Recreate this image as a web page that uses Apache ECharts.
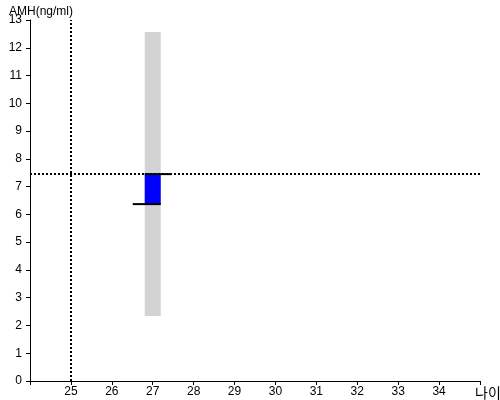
<!DOCTYPE html>
<html><head><meta charset="utf-8">
<script src="https://cdn.jsdelivr.net/npm/echarts@6/dist/echarts.min.js"></script>
<style>html,body{margin:0;padding:0;background:#fff}#c{width:500px;height:400px}</style>
</head><body><div id="c"></div>
<script>
// Data
const ages = [27];
const rangeLow = [2.34];
const rangeHigh = [12.57];
const valueLow = [6.37];
const valueHigh = [7.45];
const refAge = 25;
const refAmh = 7.45;
const xTicks = [25, 26, 27, 28, 29, 30, 31, 32, 33, 34];

const chart = echarts.init(document.getElementById('c'));
const rangeData = ages.map((a, i) => [a, rangeLow[i], rangeHigh[i]]);
const valueData = ages.map((a, i) => [a, valueLow[i], valueHigh[i]]);

chart.setOption({
  animation: false,
  title: {text: 'AMH(ng/ml)', left: 4, top: 1, textStyle: {fontSize: 12, fontWeight: 'normal', color: '#000', fontFamily: 'Liberation Sans, Arial, sans-serif'}},
  grid: {left: 30, right: 20, top: 20, bottom: 19, outerBoundsMode: 'none', containLabel: false},
  xAxis: {
    type: 'value', min: 24, max: 35, interval: 1,
    axisLine: {lineStyle: {color: '#000', width: 1}},
    axisTick: {length: 4, lineStyle: {color: '#000'}},
    splitLine: {show: false},
    axisLabel: {color: '#000', fontSize: 12, fontFamily: 'Liberation Sans, Arial, sans-serif', margin: 5,
      formatter: v => xTicks.indexOf(v) >= 0 ? String(v) : ''},
    name: '나이', nameLocation: 'end', nameGap: -5,
    nameTextStyle: {color: '#000', fontSize: 14, fontFamily: 'Noto Sans CJK KR, sans-serif', verticalAlign: 'top', padding: [5, 0, 0, 0]}
  },
  yAxis: {
    type: 'value', min: 0, max: 13, interval: 1,
    axisLine: {show: true, lineStyle: {color: '#000', width: 1}},
    axisTick: {show: true, length: 4, lineStyle: {color: '#000'}},
    splitLine: {show: false},
    axisLabel: {color: '#000', fontSize: 12, fontFamily: 'Liberation Sans, Arial, sans-serif', margin: 8}
  },
  series: [
    {
      type: 'custom', z: 1,
      data: rangeData,
      renderItem: (params, api) => {
        const p1 = api.coord([api.value(0), api.value(1)]);
        const p2 = api.coord([api.value(0), api.value(2)]);
        return {type: 'rect', shape: {x: p1[0] - 8, y: p2[1], width: 16, height: p1[1] - p2[1]}, style: {fill: '#d3d3d3'}};
      }
    },
    {
      type: 'custom', z: 3,
      data: valueData,
      renderItem: (params, api) => {
        const p1 = api.coord([api.value(0), api.value(1)]);
        const p2 = api.coord([api.value(0), api.value(2)]);
        return {type: 'group', children: [
          {type: 'rect', shape: {x: p1[0] - 8, y: p2[1], width: 16, height: p1[1] - p2[1]}, style: {fill: '#0000ff'}},
          {type: 'line', shape: {x1: p2[0] - 8, y1: p2[1], x2: p2[0] + 19, y2: p2[1]}, style: {stroke: '#000', lineWidth: 2}},
          {type: 'line', shape: {x1: p1[0] - 20, y1: p1[1], x2: p1[0] + 8, y2: p1[1]}, style: {stroke: '#000', lineWidth: 2}}
        ]};
      },
      markLine: {
        silent: true, symbol: 'none', label: {show: false},
        lineStyle: {color: '#000', type: [2, 2], width: 2},
        data: [{xAxis: refAge}, {yAxis: refAmh}]
      }
    }
  ]
});
</script></body></html>
